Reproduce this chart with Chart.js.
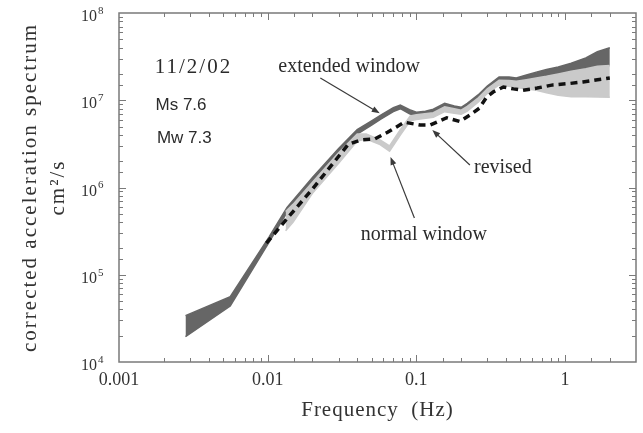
<!DOCTYPE html>
<html>
<head>
<meta charset="utf-8">
<script src="https://cdn.jsdelivr.net/npm/chart.js@4.4.1/dist/chart.umd.min.js"></script>
<style>
  html, body { margin: 0; padding: 0; background: #fff; }
  #wrap { width: 643px; height: 433px; }
</style>
</head>
<body>
<div id="wrap"><canvas id="c" width="643" height="433"></canvas></div>
<script>
// extended window band (dark)
const freqExt = [0.0028, 0.0056, 0.0102, 0.0135, 0.02, 0.03, 0.04, 0.05, 0.058, 0.07, 0.078, 0.09, 0.1, 0.115, 0.13, 0.155, 0.18, 0.2, 0.22, 0.26, 0.3, 0.36, 0.42, 0.47, 0.55, 0.64, 0.75, 0.9, 1.1, 1.38, 1.65, 2.0];
const extUpper = [3.4e4, 5.6e4, 2.7e5, 5.9e5, 1.3e6, 2.8e6, 4.6e6, 5.8e6, 6.8e6, 8.2e6, 8.8e6, 7.8e6, 7.3e6, 7.5e6, 7.9e6, 9.2e6, 8.6e6, 8.3e6, 9.2e6, 1.15e7, 1.45e7, 1.85e7, 1.85e7, 1.8e7, 1.95e7, 2.1e7, 2.25e7, 2.4e7, 2.65e7, 3.05e7, 3.6e7, 4.0e7];
const extLower = [1.95e4, 4.4e4, 2.35e5, 5.2e5, 1.15e6, 2.5e6, 4.1e6, 5.2e6, 6.1e6, 7.4e6, 8.0e6, 7.0e6, 6.6e6, 6.8e6, 7.1e6, 8.3e6, 7.8e6, 7.5e6, 8.3e6, 1.03e7, 1.3e7, 1.68e7, 1.68e7, 1.65e7, 1.72e7, 1.8e7, 1.88e7, 2.0e7, 2.15e7, 2.3e7, 2.45e7, 2.5e7];

// normal window band (light)
const freqNorm = [0.0132, 0.0148, 0.02, 0.03, 0.04, 0.046, 0.057, 0.066, 0.078, 0.091, 0.1, 0.13, 0.155, 0.18, 0.2, 0.22, 0.26, 0.3, 0.36, 0.42, 0.47, 0.55, 0.64, 0.75, 0.9, 1.1, 1.38, 1.65, 2.0];
const normUpper = [5.3e5, 6.4e5, 1.15e6, 2.5e6, 4.1e6, 4.1e6, 3.5e6, 3.0e6, 4.6e6, 6.6e6, 6.8e6, 7.2e6, 8.4e6, 8.0e6, 7.7e6, 8.5e6, 1.06e7, 1.35e7, 1.7e7, 1.68e7, 1.65e7, 1.72e7, 1.8e7, 1.88e7, 2.0e7, 2.15e7, 2.3e7, 2.45e7, 2.5e7];
const normLower = [3.2e5, 4.0e5, 8.6e5, 1.9e6, 3.4e6, 3.6e6, 3.1e6, 2.6e6, 4.0e6, 5.8e6, 6.0e6, 6.4e6, 7.4e6, 7.1e6, 6.9e6, 7.5e6, 9.5e6, 1.2e7, 1.5e7, 1.45e7, 1.4e7, 1.35e7, 1.3e7, 1.22e7, 1.14e7, 1.1e7, 1.1e7, 1.09e7, 1.08e7];

// revised (dashed)
const freqRev = [0.0098, 0.0138, 0.02, 0.0347, 0.042, 0.0525, 0.064, 0.083, 0.106, 0.124, 0.16, 0.196, 0.23, 0.265, 0.297, 0.33, 0.385, 0.45, 0.52, 0.65, 0.83, 1.05, 1.32, 1.65, 2.0];
const revised = [2.3e5, 4.6e5, 9.6e5, 3.1e6, 3.5e6, 3.6e6, 4.3e6, 5.6e6, 5.2e6, 5.2e6, 6.3e6, 5.7e6, 6.8e6, 8.1e6, 1.09e7, 1.25e7, 1.42e7, 1.35e7, 1.3e7, 1.38e7, 1.5e7, 1.55e7, 1.62e7, 1.72e7, 1.8e7];

const xTickLabels = ['0.001', '0.01', '0.1', '1'];
const yTickExponents = [4, 5, 6, 7, 8];

const DARK = '#666666';
const LIGHT = '#cacaca';
const INK = '#333';
const SERIF = '"Liberation Serif", "Times New Roman", serif';
const SANS = '"Liberation Sans", Arial, sans-serif';

const pts = (xs, ys) => xs.map((x, i) => ({ x: x, y: ys[i] }));
const isPow10 = v => Math.abs(Math.log10(v) - Math.round(Math.log10(v))) < 1e-6;

// text notes and arrows, placed in data units
const notes = [
  { text: '11/2/02', f: 0.00174, a: 2.4e7, font: '21px ' + SERIF, spacing: '2px' },
  { text: 'Ms 7.6', f: 0.00176, a: 8.8e6, font: '17px ' + SANS, spacing: '0px' },
  { text: 'Mw 7.3', f: 0.0018, a: 3.7e6, font: '17px ' + SANS, spacing: '0px' },
  { text: 'extended window', f: 0.0118, a: 2.4e7, font: '20px ' + SERIF, spacing: '0px' },
  { text: 'revised', f: 0.244, a: 1.67e6, font: '20px ' + SERIF, spacing: '0px' },
  { text: 'normal window', f: 0.0423, a: 2.86e5, font: '20px ' + SERIF, spacing: '0px' }
];
const arrows = [
  { from: [0.0226, 1.8e7], to: [0.0567, 7.1e6] },
  { from: [0.229, 1.81e6], to: [0.128, 4.56e6] },
  { from: [0.097, 4.47e5], to: [0.067, 2.24e6] }
];

const decor = {
  id: 'decor',
  afterDatasetsDraw(chart) {
    const { ctx, chartArea: ca, scales: { x, y } } = chart;
    ctx.save();
    ctx.strokeStyle = '#7a7a7a';
    ctx.lineWidth = 1.5;
    ctx.strokeRect(ca.left, ca.top, ca.right - ca.left, ca.bottom - ca.top);
    ctx.lineWidth = 1;
    ctx.beginPath();
    x.ticks.forEach(t => {
      if (t.value <= x.min || t.value >= x.max) return;
      const px = Math.round(x.getPixelForValue(t.value)) + 0.5;
      const len = isPow10(t.value) ? 7 : 4;
      ctx.moveTo(px, ca.bottom); ctx.lineTo(px, ca.bottom - len);
      ctx.moveTo(px, ca.top); ctx.lineTo(px, ca.top + len);
    });
    y.ticks.forEach(t => {
      if (t.value <= y.min || t.value >= y.max) return;
      const py = Math.round(y.getPixelForValue(t.value)) + 0.5;
      const len = isPow10(t.value) ? 7 : 4;
      ctx.moveTo(ca.left, py); ctx.lineTo(ca.left + len, py);
      ctx.moveTo(ca.right, py); ctx.lineTo(ca.right - len, py);
    });
    ctx.stroke();
    ctx.restore();
  },
  afterDraw(chart) {
    const { ctx, chartArea: ca, scales: { x, y } } = chart;
    ctx.save();
    ctx.fillStyle = INK;

    // y tick labels 10^n
    yTickExponents.forEach(e => {
      const py = y.getPixelForValue(Math.pow(10, e));
      ctx.textBaseline = 'middle';
      ctx.textAlign = 'right';
      ctx.font = '16px ' + SERIF;
      ctx.fillText('10', 97, py + 4);
      ctx.textAlign = 'left';
      ctx.font = '11px ' + SERIF;
      ctx.fillText(String(e), 98, py - 2);
    });

    // axis titles
    ctx.textAlign = 'center';
    ctx.textBaseline = 'middle';
    ctx.font = '21px ' + SERIF;
    ctx.letterSpacing = '1px';
    ctx.fillText('Frequency  (Hz)', (ca.left + ca.right) / 2, 410);
    ctx.letterSpacing = '2px';
    const cy = (ca.top + ca.bottom) / 2;
    ctx.save();
    ctx.translate(30, cy);
    ctx.rotate(-Math.PI / 2);
    ctx.fillText('corrected acceleration spectrum', 0, 0);
    ctx.restore();
    ctx.save();
    ctx.translate(58, cy);
    ctx.rotate(-Math.PI / 2);
    ctx.fillText('cm\u00B2/s', 0, 0);
    ctx.restore();

    // notes
    ctx.textAlign = 'left';
    notes.forEach(n => {
      ctx.font = n.font;
      ctx.letterSpacing = n.spacing;
      ctx.fillStyle = '#2b2b2b';
      ctx.fillText(n.text, x.getPixelForValue(n.f), y.getPixelForValue(n.a));
    });
    ctx.letterSpacing = '0px';

    // arrows
    ctx.strokeStyle = '#3a3a3a';
    ctx.fillStyle = '#3a3a3a';
    ctx.lineWidth = 1.2;
    arrows.forEach(ar => {
      const x0 = x.getPixelForValue(ar.from[0]), y0 = y.getPixelForValue(ar.from[1]);
      const x1 = x.getPixelForValue(ar.to[0]), y1 = y.getPixelForValue(ar.to[1]);
      const ang = Math.atan2(y1 - y0, x1 - x0);
      ctx.beginPath();
      ctx.moveTo(x0, y0);
      ctx.lineTo(x1 - 5 * Math.cos(ang), y1 - 5 * Math.sin(ang));
      ctx.stroke();
      ctx.beginPath();
      ctx.moveTo(x1, y1);
      ctx.lineTo(x1 - 8 * Math.cos(ang) + 3 * Math.sin(ang), y1 - 8 * Math.sin(ang) - 3 * Math.cos(ang));
      ctx.lineTo(x1 - 8 * Math.cos(ang) - 3 * Math.sin(ang), y1 - 8 * Math.sin(ang) + 3 * Math.cos(ang));
      ctx.closePath();
      ctx.fill();
    });
    ctx.restore();
  }
};

const line = (label, xs, ys, extra) => Object.assign({
  label: label,
  data: pts(xs, ys),
  pointRadius: 0,
  tension: 0,
  fill: false
}, extra);

new Chart(document.getElementById('c'), {
  type: 'line',
  data: {
    datasets: [
      line('revised', freqRev, revised, { borderColor: '#111', borderWidth: 3.5, borderDash: [7, 5], order: 0 }),
      line('normal window upper', freqNorm, normUpper, { borderColor: LIGHT, borderWidth: 1.5, order: 1 }),
      line('normal window', freqNorm, normLower, { borderColor: LIGHT, backgroundColor: LIGHT, borderWidth: 1.5, fill: '-1', order: 1 }),
      line('extended window upper', freqExt, extUpper, { borderColor: DARK, borderWidth: 1.5, order: 2 }),
      line('extended window', freqExt, extLower, { borderColor: DARK, backgroundColor: DARK, borderWidth: 1.5, fill: '-1', order: 2 })
    ]
  },
  options: {
    responsive: false,
    animation: false,
    devicePixelRatio: 1,
    layout: { padding: { top: 13, right: 3, left: 0, bottom: 0 } },
    plugins: { legend: { display: false }, tooltip: { enabled: false } },
    scales: {
      x: {
        type: 'logarithmic',
        min: 0.001,
        max: 3,
        grid: { display: false, drawTicks: false },
        border: { display: false },
        ticks: {
          autoSkip: false,
          maxRotation: 0,
          padding: 7,
          color: INK,
          font: { family: SERIF, size: 18 },
          callback: v => isPow10(v) ? xTickLabels[Math.round(Math.log10(v)) + 3] : ''
        },
        afterFit: s => { s.height = 71; }
      },
      y: {
        type: 'logarithmic',
        min: 1e4,
        max: 1e8,
        grid: { display: false, drawTicks: false },
        border: { display: false },
        ticks: { display: false },
        afterFit: s => { s.width = 119; }
      }
    }
  },
  plugins: [decor]
});
</script>
</body>
</html>
